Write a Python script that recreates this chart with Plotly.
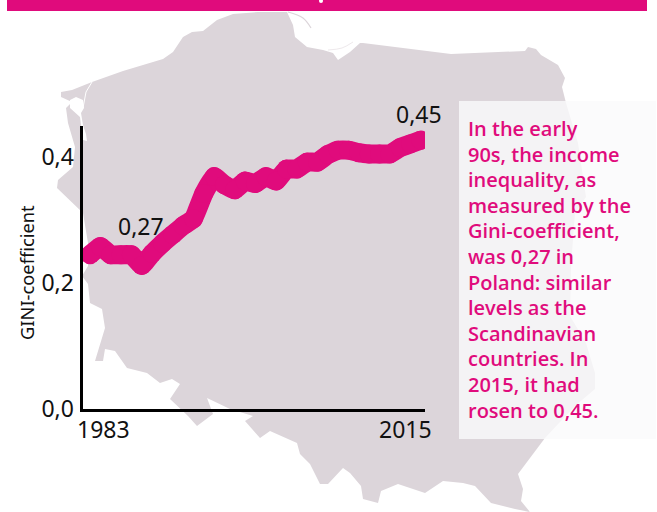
import plotly.graph_objects as go

W, H = 657, 512
PINK = "#e00b7c"
GREY = "#dcd5da"
FONT = "Noto Sans"
NOTE_FONT = "Open Sans"
DARK = "#111111"

# --- chart data ---
years = list(range(1983, 2016))
gini = [0.244, 0.257, 0.244, 0.244, 0.244, 0.227, 0.246, 0.262, 0.276, 0.290, 0.301,
        0.341, 0.368, 0.355, 0.347, 0.361, 0.357, 0.368, 0.361, 0.380, 0.380, 0.391,
        0.391, 0.403, 0.410, 0.410, 0.406, 0.404, 0.404, 0.404, 0.414, 0.420, 0.426]
y_ticks = [0.0, 0.2, 0.4]
y_tick_labels = ["0,0", "0,2", "0,4"]
y_title = "GINI-coefficient"
first_year_label = "1983"
last_year_label = "2015"
note_lines = ["In the early", "90s, the income", "inequality, as", "measured by the",
              "Gini-coefficient,", "was 0,27 in", "Poland: similar", "levels as the",
              "Scandinavian", "countries. In", "2015, it had", "rosen to 0,45."]

# --- backdrop map outline (page pixels) ---
map_x = [61, 72, 92, 123, 163, 173, 183, 192, 203, 217, 233, 258, 287, 293, 295, 307, 323, 333, 338,
         350, 360, 363, 451, 525, 528, 536, 541, 558, 565, 562, 566, 578, 586, 575, 571, 570, 586,
         595, 595, 575, 545, 518, 523, 521, 530, 515, 491, 475, 463, 443, 425, 398, 381, 378, 363,
         361, 350, 343, 328, 320, 310, 300, 297, 270, 260, 245, 253, 230, 207, 213, 197, 188, 170,
         180, 172, 160, 147, 127, 115, 105, 103, 95, 105, 102, 90, 88, 82, 88, 88, 83, 57, 58, 73,
         75, 68, 66, 72, 61]
map_y = [92, 90, 82, 71, 59, 52, 37, 32, 31, 20, 14, 12, 12, 25, 37, 47, 50, 53, 60,
         52, 43, 43, 54, 51, 47, 49, 55, 65, 78, 87, 103, 143, 197, 213, 266, 316, 343,
         373, 389, 406, 438, 474, 489, 501, 512, 509, 503, 486, 483, 481, 493, 484, 491, 503, 499,
         486, 473, 468, 484, 484, 464, 454, 443, 431, 438, 421, 416, 409, 398, 414, 426, 416, 399,
         384, 379, 383, 373, 368, 351, 349, 361, 361, 328, 309, 303, 284, 276, 266, 243, 213, 188, 180, 167,
         147, 123, 108, 102, 97]
lagoon_x = [70, 76, 83, 84, 81, 83, 86, 87, 83, 80, 70]
lagoon_y = [100, 97, 100, 108, 113, 125, 134, 141, 140, 117, 108]
river_x = [92, 86, 83]
river_y = [82, 92, 108]
spit_x = [288, 303, 311]
spit_y = [12, 18, 28]
spit2_x = [328, 342, 353]
spit2_y = [50, 48, 42]
glyph_x = [321]
glyph_y = [1]

fig = go.Figure()
fig.add_trace(go.Scatter(x=map_x, y=map_y, fill="toself", fillcolor=GREY, mode="lines",
                         line=dict(width=0, color=GREY), hoverinfo="skip", xaxis="x", yaxis="y"))
fig.add_trace(go.Scatter(x=lagoon_x, y=lagoon_y, fill="toself", fillcolor="white", mode="lines",
                         line=dict(width=0, color="white"), hoverinfo="skip", xaxis="x", yaxis="y"))
fig.add_trace(go.Scatter(x=river_x, y=river_y, mode="lines", line=dict(width=1, color="white"),
                         hoverinfo="skip", xaxis="x", yaxis="y"))
fig.add_trace(go.Scatter(x=spit_x, y=spit_y, mode="lines", line=dict(width=1.2, color=GREY, shape="spline"),
                         hoverinfo="skip", xaxis="x", yaxis="y"))
fig.add_trace(go.Scatter(x=spit2_x, y=spit2_y, mode="lines", line=dict(width=1, color="#eee9ec", shape="spline"),
                         hoverinfo="skip", xaxis="x", yaxis="y"))

# chart proper: slight smoothing plus markers at every vertex give the rounded joins and caps
fig.add_trace(go.Scatter(x=years, y=gini, mode="lines+markers", xaxis="x2", yaxis="y2",
                         line=dict(color=PINK, width=19, shape="spline", smoothing=0.3),
                         marker=dict(color=PINK, size=19, opacity=1, line=dict(width=0)),
                         hoverinfo="x+y"))

LINE_H = 25.6
note_anns = [
    dict(text=t, xref="paper", yref="paper", x=466 / W, y=1 - (128.5 + i * LINE_H) / H,
         xanchor="left", yanchor="middle", align="left", showarrow=False, height=25,
         font=dict(size=20, family=NOTE_FONT, color=PINK, weight=600))
    for i, t in enumerate(note_lines)
]


def label(text, px, py, size=23, **kw):
    return dict(text=text, xref="paper", yref="paper", x=px / W, y=1 - py / H,
                xanchor="center", yanchor="middle", showarrow=False,
                font=dict(size=size, family=FONT, color=DARK), **kw)


fig.update_layout(
    width=W, height=H, autosize=False, showlegend=False,
    margin=dict(l=0, r=0, t=0, b=0, pad=0),
    paper_bgcolor="white", plot_bgcolor="rgba(0,0,0,0)",
    font=dict(family=FONT, color=DARK, size=23),
    xaxis=dict(domain=[0, 1], range=[0, W], visible=False, fixedrange=True, automargin=False),
    yaxis=dict(domain=[0, 1], range=[H, 0], visible=False, fixedrange=True, automargin=False),
    xaxis2=dict(domain=[82.5 / W, 425 / W], range=[1982.27, 2015.4], anchor="y2", automargin=False,
                showgrid=False, zeroline=False, showticklabels=False, ticks="",
                showline=True, linecolor="black", linewidth=3),
    yaxis2=dict(domain=[1 - 408.5 / H, 1 - 126 / H], range=[0, 0.4483], anchor="x2", automargin=False,
                showgrid=False, zeroline=False, tickvals=y_ticks, ticktext=y_tick_labels,
                ticks="", showline=True, linecolor="black", linewidth=3, ticklabelstandoff=1,
                tickfont=dict(size=23, family=FONT, color=DARK)),
    shapes=[
        dict(type="rect", xref="paper", yref="paper", x0=7 / W, x1=647 / W, y0=1 - 11 / H, y1=1,
             fillcolor=PINK, line=dict(width=0), layer="above"),
        dict(type="rect", xref="paper", yref="paper", x0=459 / W, x1=656 / W, y0=1 - 439 / H, y1=1 - 101 / H,
             fillcolor="rgba(250,250,251,0.8)", line=dict(width=0), layer="above"),
        dict(type="circle", xref="x", yref="y", x0=glyph_x[0] - 2, x1=glyph_x[0] + 2,
             y0=glyph_y[0] - 2, y1=glyph_y[0] + 2, fillcolor="white", line=dict(width=0), layer="above"),
    ],
    annotations=[
        label(y_title, 26, 273, size=18.3, textangle=-90),
        label(first_year_label, 103, 429),
        label(last_year_label, 405, 429),
        label("0,27", 141, 226),
        label("0,45", 419, 114),
    ] + note_anns,
)
fig.write_html("out.html", config=dict(displayModeBar=False),
               post_script="document.body.style.margin='0';")
